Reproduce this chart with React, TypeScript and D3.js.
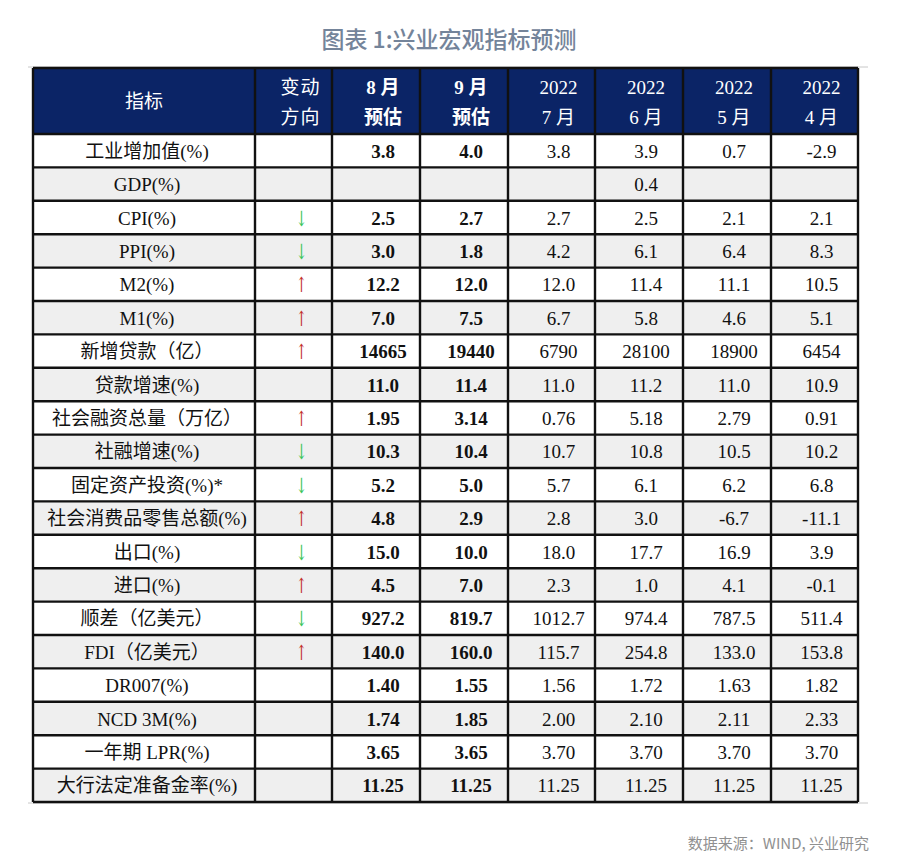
import React from "react";
import * as d3 from "d3";

const title = "图表 1:兴业宏观指标预测";
const source = "数据来源：WIND, 兴业研究";

const headerLine1 = ["指标", "变动", "8 月", "9 月", "2022", "2022", "2022", "2022"];
const headerLine2 = ["", "方向", "预估", "预估", "7 月", "6 月", "5 月", "4 月"];
const colWeights = [222, 77, 88, 88, 87, 88, 88, 87];

const indicators = [
  "工业增加值(%)", "GDP(%)", "CPI(%)", "PPI(%)", "M2(%)", "M1(%)",
  "新增贷款（亿）", "贷款增速(%)", "社会融资总量（万亿）", "社融增速(%)",
  "固定资产投资(%)*", "社会消费品零售总额(%)", "出口(%)", "进口(%)",
  "顺差（亿美元）", "FDI（亿美元）", "DR007(%)", "NCD 3M(%)",
  "一年期 LPR(%)", "大行法定准备金率(%)",
];
const direction = ["", "", "down", "down", "up", "up", "up", "", "up", "down",
  "down", "up", "down", "up", "down", "up", "", "", "", ""];
const augEst = ["3.8", "", "2.5", "3.0", "12.2", "7.0", "14665", "11.0", "1.95", "10.3",
  "5.2", "4.8", "15.0", "4.5", "927.2", "140.0", "1.40", "1.74", "3.65", "11.25"];
const sepEst = ["4.0", "", "2.7", "1.8", "12.0", "7.5", "19440", "11.4", "3.14", "10.4",
  "5.0", "2.9", "10.0", "7.0", "819.7", "160.0", "1.55", "1.85", "3.65", "11.25"];
const jul2022 = ["3.8", "", "2.7", "4.2", "12.0", "6.7", "6790", "11.0", "0.76", "10.7",
  "5.7", "2.8", "18.0", "2.3", "1012.7", "115.7", "1.56", "2.00", "3.70", "11.25"];
const jun2022 = ["3.9", "0.4", "2.5", "6.1", "11.4", "5.8", "28100", "11.2", "5.18", "10.8",
  "6.1", "3.0", "17.7", "1.0", "974.4", "254.8", "1.72", "2.10", "3.70", "11.25"];
const may2022 = ["0.7", "", "2.1", "6.4", "11.1", "4.6", "18900", "11.0", "2.79", "10.5",
  "6.2", "-6.7", "16.9", "4.1", "787.5", "133.0", "1.63", "2.11", "3.70", "11.25"];
const apr2022 = ["-2.9", "", "2.1", "8.3", "10.5", "5.1", "6454", "10.9", "0.91", "10.2",
  "6.8", "-11.1", "3.9", "-0.1", "511.4", "153.8", "1.82", "2.33", "3.70", "11.25"];

const W = 900, H = 864;
const left = 33, right = 858, headTop = 68, headBottom = 134, bottom = 802;

export default function App() {
  const cum = [0];
  colWeights.forEach((w, i) => cum.push(cum[i] + w));
  const xs = d3.scaleLinear().domain([0, cum[cum.length - 1]]).range([left, right]);
  const edges = cum.map((c) => xs(c));
  const y = d3.scaleBand<number>().domain(d3.range(indicators.length)).range([headBottom, bottom]);
  const cols = [augEst, sepEst, jul2022, jun2022, may2022, apr2022];

  const serif = "'Liberation Serif', 'Times New Roman', 'Noto Sans CJK SC', serif";
  const lineW = 2.4;

  return (
    <svg width={W} height={H} style={{ position: "absolute", left: 0, top: 0, background: "#fff" }}>
      <text x={449} y={48} textAnchor="middle" fontFamily="'Noto Sans CJK SC', sans-serif"
        fontSize={23} fontWeight={500} fill="#74849a">{title}</text>

      {/* faint outer lines */}
      <line x1={28} x2={868} y1={headTop - 1} y2={headTop - 1} stroke="#c8c8c8" strokeWidth={1} />
      <line x1={28} x2={868} y1={bottom + 1} y2={bottom + 1} stroke="#c8c8c8" strokeWidth={1} />

      {/* header */}
      <rect x={left} y={headTop} width={right - left} height={headBottom - headTop} fill="#0b2466" />
      {headerLine1.map((t, i) => {
        const cx = (edges[i] + edges[i + 1]) / 2 + (i === 0 ? 0 : 7);
        const bold = i === 2 || i === 3;
        if (i === 0) {
          return (
            <text key={i} x={cx} y={108} textAnchor="middle" fill="#fff" fontSize={19} fontFamily={serif}>{t}</text>
          );
        }
        return (
          <g key={i}>
            <text x={cx} y={94} textAnchor="middle" fill="#fff" fontSize={19} fontFamily={serif}
              fontWeight={bold ? 700 : 400} letterSpacing={i === 1 ? 1 : 0}>{t}</text>
            <text x={cx} y={124} textAnchor="middle" fill="#fff" fontSize={19} fontFamily={serif}
              fontWeight={bold ? 700 : 400} letterSpacing={i === 1 ? 1 : 0}>{headerLine2[i]}</text>
          </g>
        );
      })}

      {/* rows */}
      {indicators.map((name, r) => {
        const y0 = y(r)!;
        const bh = y.bandwidth();
        const cy = y0 + bh / 2 + 7;
        const ax = (edges[1] + edges[2]) / 2 + 8;
        const ay = y0 + bh / 2 + 1;
        const fill = r % 2 === 0 ? "#ffffff" : "#efefef";
        return (
          <g key={r}>
            <rect x={left} y={y0} width={right - left} height={bh} fill={fill} />
            <text x={(edges[0] + edges[1]) / 2 + 3} y={cy} textAnchor="middle" fontSize={19}
              fontFamily={serif} fill="#111">{name}</text>
            {direction[r] && (
              <text x={0} y={0} textAnchor="middle" fontSize={21} dominantBaseline="central"
                fontFamily="'DejaVu Serif', serif" transform={`translate(${ax},${ay}) scale(0.65,1)`}
                fill={direction[r] === "up" ? "#c2302c" : "#3cc45a"}>
                {direction[r] === "up" ? "↑" : "↓"}
              </text>
            )}
            {cols.map((col, c) => (
              <text key={c} x={(edges[c + 2] + edges[c + 3]) / 2 + 7} y={cy} textAnchor="middle"
                fontSize={19} fontFamily={serif} fontWeight={c < 2 ? 700 : 400} fill="#111">
                {col[r]}
              </text>
            ))}
          </g>
        );
      })}

      {/* grid lines */}
      {y.domain().map((r) => (
        <line key={"h" + r} x1={left} x2={right} y1={y(r)!} y2={y(r)!} stroke="#111" strokeWidth={lineW} />
      ))}
      {edges.map((ex, i) => (
        <line key={"v" + i} x1={ex} x2={ex} y1={headTop} y2={bottom} stroke="#111" strokeWidth={lineW} />
      ))}
      <line x1={left} x2={right} y1={headTop} y2={headTop} stroke="#111" strokeWidth={lineW} />
      <line x1={left} x2={right} y1={bottom} y2={bottom} stroke="#111" strokeWidth={lineW} />

      <text x={869} y={849} textAnchor="end" fontFamily="'Noto Sans CJK SC', sans-serif"
        fontSize={15} fill="#909090">{source}</text>
    </svg>
  );
}
